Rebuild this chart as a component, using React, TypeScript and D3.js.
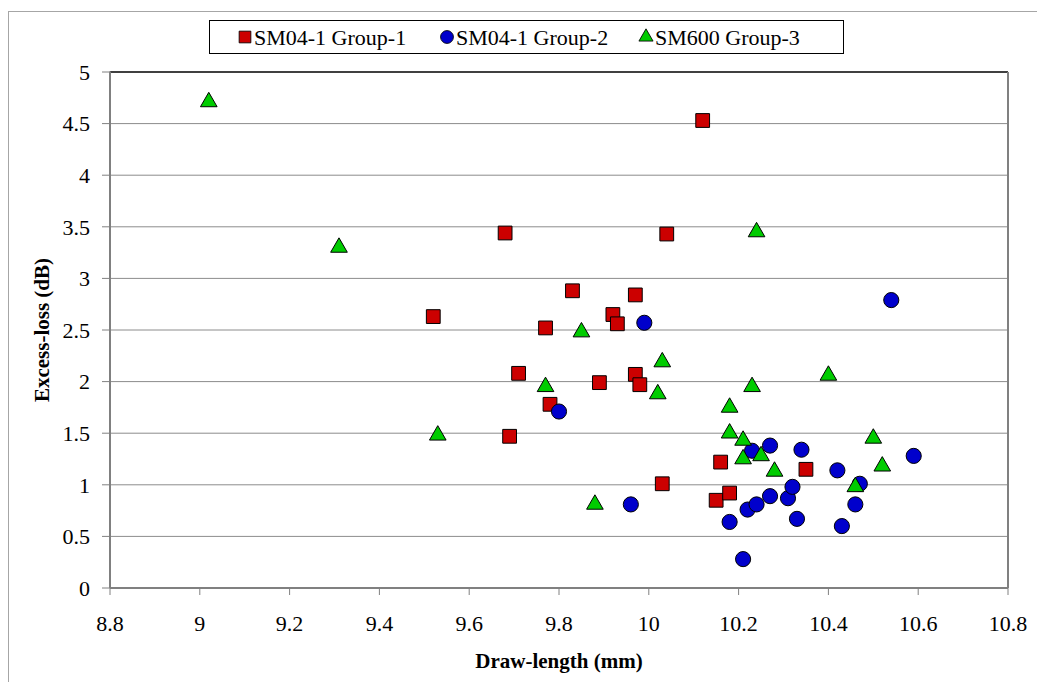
import * as d3 from 'd3';

// Series values: [draw-length (mm), excess-loss (dB)]
const group1: [number, number][] = [
  [9.52, 2.63], [9.68, 3.44], [9.69, 1.47], [9.71, 2.08], [9.77, 2.52],
  [9.78, 1.78], [9.83, 2.88], [9.89, 1.99], [9.92, 2.65], [9.93, 2.56],
  [9.97, 2.84], [9.97, 2.07], [9.98, 1.97], [10.04, 3.43], [10.03, 1.01],
  [10.12, 4.53], [10.15, 0.85], [10.16, 1.22], [10.18, 0.92], [10.35, 1.15],
];
const group2: [number, number][] = [
  [9.8, 1.71], [9.96, 0.81], [9.99, 2.57], [10.18, 0.64], [10.21, 0.28],
  [10.22, 0.76], [10.23, 1.33], [10.24, 0.81], [10.27, 0.89], [10.27, 1.38],
  [10.31, 0.87], [10.32, 0.98], [10.33, 0.67], [10.34, 1.34], [10.42, 1.14],
  [10.43, 0.6], [10.46, 0.81], [10.47, 1.01], [10.54, 2.79], [10.59, 1.28],
];
const group3: [number, number][] = [
  [9.02, 4.71], [9.31, 3.3], [9.53, 1.48], [9.77, 1.95], [9.85, 2.48],
  [9.88, 0.81], [10.02, 1.88], [10.03, 2.19], [10.18, 1.75], [10.18, 1.5],
  [10.21, 1.43], [10.21, 1.25], [10.23, 1.95], [10.24, 3.45], [10.25, 1.28],
  [10.28, 1.13], [10.4, 2.06], [10.46, 0.98], [10.5, 1.45], [10.52, 1.18],
];

const seriesNames = ['SM04-1 Group-1', 'SM04-1 Group-2', 'SM600 Group-3'];
const xTicks = [8.8, 9, 9.2, 9.4, 9.6, 9.8, 10, 10.2, 10.4, 10.6, 10.8];
const yTicks = [0, 0.5, 1, 1.5, 2, 2.5, 3, 3.5, 4, 4.5, 5];

const width = 1037;
const height = 682;
const margin = { top: 72, right: 29, bottom: 94, left: 110 };
const serif = { fontFamily: "'Liberation Serif', 'DejaVu Serif', 'Times New Roman', serif" };

const colors = ['#cc0000', '#0000cc', '#00cc00'];
const shapes = [d3.symbolSquare, d3.symbolCircle, d3.symbolTriangle];
const sizes = [190, 180, 120];

export default function App() {
  const x = d3
    .scaleLinear()
    .domain([xTicks[0], xTicks[xTicks.length - 1]])
    .range([margin.left, width - margin.right]);
  const y = d3
    .scaleLinear()
    .domain([yTicks[0], yTicks[yTicks.length - 1]])
    .range([height - margin.bottom, margin.top]);

  const series = [group1, group2, group3];
  const symbolPath = (i: number) => d3.symbol(shapes[i], sizes[i])() || '';

  const legendX = [245, 447, 646];

  return (
    <svg width={width} height={height} style={{ position: 'absolute', top: 0, left: 0, background: '#fff' }}>
      {/* chart area border */}
      <rect x={8.5} y={11.5} width={width + 10} height={height + 10} fill="none" stroke="#a6a6a6" strokeWidth={1} />

      {/* gridlines */}
      {yTicks.slice(1, -1).map((t) => (
        <line key={t} x1={x.range()[0]} x2={x.range()[1]} y1={y(t)} y2={y(t)} stroke="#8c8c8c" strokeWidth={1} />
      ))}
      {/* plot frame */}
      <line x1={x.range()[0]} x2={x.range()[1]} y1={y(5)} y2={y(5)} stroke="#000" strokeWidth={1.5} />
      <line x1={x.range()[1]} x2={x.range()[1]} y1={y(5)} y2={y(0)} stroke="#808080" strokeWidth={2} />

      {/* y axis */}
      <line x1={x.range()[0]} x2={x.range()[0]} y1={y(5) - 0.5} y2={y(0)} stroke="#808080" strokeWidth={2} />
      {yTicks.map((t) => (
        <g key={t}>
          <line x1={x.range()[0] - 8} x2={x.range()[0]} y1={y(t)} y2={y(t)} stroke="#808080" strokeWidth={1} />
          <text x={90} y={y(t)} dy="0.35em" textAnchor="end" fontSize={22} fill="#000" style={serif}>
            {t}
          </text>
        </g>
      ))}

      {/* x axis */}
      <line x1={x.range()[0]} x2={x.range()[1]} y1={y(0)} y2={y(0)} stroke="#808080" strokeWidth={2} />
      {xTicks.map((t) => (
        <g key={t}>
          <line x1={x(t)} x2={x(t)} y1={y(0)} y2={y(0) + 7} stroke="#808080" strokeWidth={1} />
          <text x={x(t)} y={623} dy="0.35em" textAnchor="middle" fontSize={22} fill="#000" style={serif}>
            {t}
          </text>
        </g>
      ))}

      {/* axis titles */}
      <text
        x={(x.range()[0] + x.range()[1]) / 2}
        y={661}
        dy="0.35em"
        textAnchor="middle"
        fontSize={21}
        fontWeight="bold"
        style={serif}
      >
        Draw-length (mm)
      </text>
      <text
        transform={`translate(42,${(y(0) + y(5)) / 2}) rotate(-90)`}
        dy="0.35em"
        textAnchor="middle"
        fontSize={21}
        fontWeight="bold"
        style={serif}
      >
        Excess-loss (dB)
      </text>

      {/* points */}
      {series.map((pts, i) => (
        <g key={i}>
          {pts.map((d, j) => (
            <path
              key={j}
              d={symbolPath(i)}
              transform={`translate(${x(d[0])},${y(d[1])})`}
              fill={colors[i]}
              stroke="#000"
              strokeWidth={1}
            />
          ))}
        </g>
      ))}

      {/* legend */}
      <rect x={209.5} y={20.5} width={634} height={33} fill="#fff" stroke="#000" strokeWidth={1} />
      {seriesNames.map((name, i) => (
        <g key={name}>
          <path
            d={symbolPath(i)}
            transform={`translate(${legendX[i]},37) scale(0.85)`}
            fill={colors[i]}
            stroke="#000"
            strokeWidth={1}
          />
          <text x={legendX[i] + 9} y={37} dy="0.35em" fontSize={22} fill="#000" style={serif}>
            {name}
          </text>
        </g>
      ))}
    </svg>
  );
}
